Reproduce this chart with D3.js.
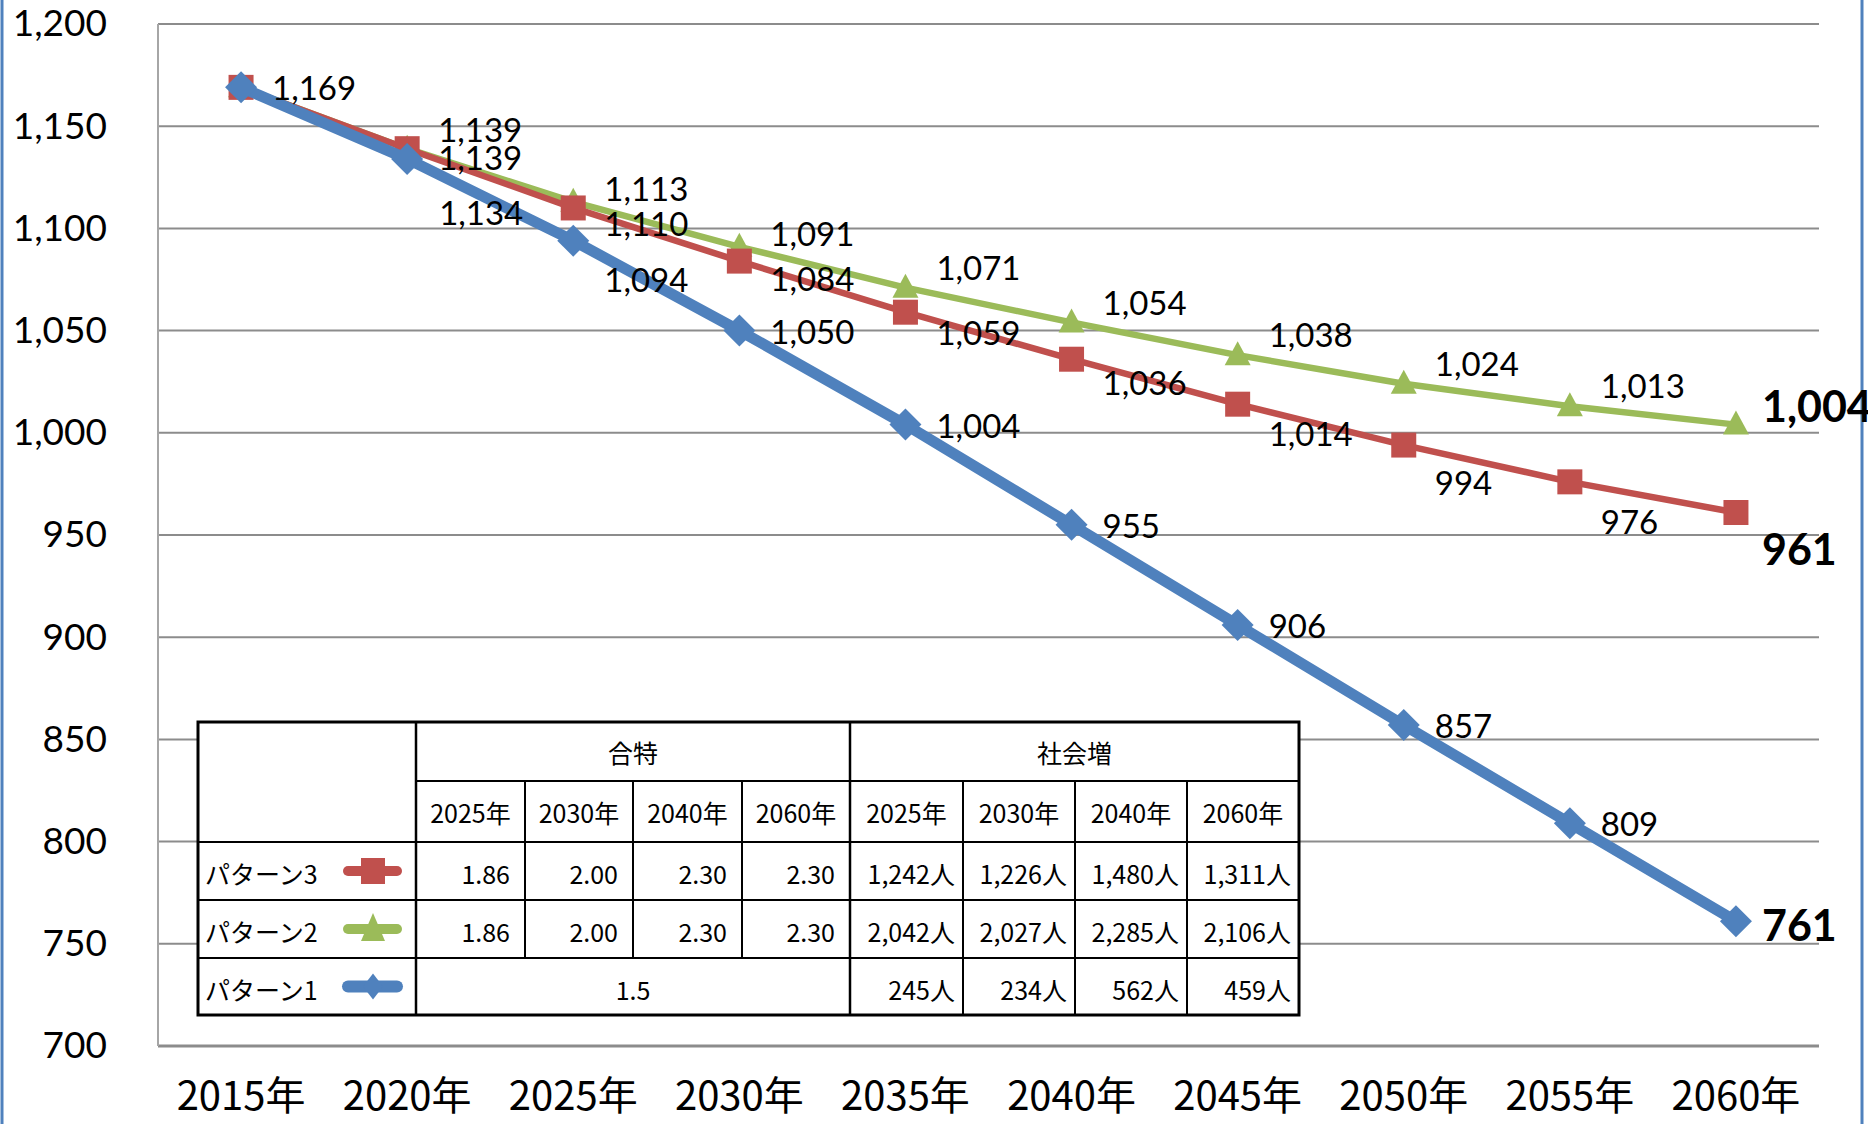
<!DOCTYPE html>
<html>
<head>
<meta charset="utf-8">
<script src="https://cdn.jsdelivr.net/npm/d3@7"></script>
<style>
  body { margin: 0; background: #fff; }
  svg { display: block; }
</style>
</head>
<body>
<script>
// chart data
var years = ["2015年", "2020年", "2025年", "2030年", "2035年", "2040年", "2045年", "2050年", "2055年", "2060年"];
var pattern1 = [1169, 1134, 1094, 1050, 1004, 955, 906, 857, 809, 761];
var pattern2 = [1169, 1139, 1113, 1091, 1071, 1054, 1038, 1024, 1013, 1004];
var pattern3 = [1169, 1139, 1110, 1084, 1059, 1036, 1014, 994, 976, 961];
var yTicks = [700, 750, 800, 850, 900, 950, 1000, 1050, 1100, 1150, 1200];

// table data
var tableGroups = ["合特", "社会増"];
var tableYears = ["2025年", "2030年", "2040年", "2060年"];
var patternNames = ["パターン3", "パターン2", "パターン1"];
var fertility = [["1.86", "2.00", "2.30", "2.30"], ["1.86", "2.00", "2.30", "2.30"], ["1.5"]];
var socialIncrease = [[1242, 1226, 1480, 1311], [2042, 2027, 2285, 2106], [245, 234, 562, 459]];

var W = 1868, H = 1124;
var margin = {top: 24, right: 49, bottom: 78, left: 158};

var svg = d3.select("body").append("svg")
    .attr("width", W)
    .attr("height", H);

// frame lines at the page edges
svg.append("line").attr("x1", 2).attr("x2", 2).attr("y1", 0).attr("y2", H)
    .attr("stroke", "#4f81bd").attr("stroke-width", 3);
svg.append("line").attr("x1", 1862).attr("x2", 1862).attr("y1", 0).attr("y2", H)
    .attr("stroke", "#4f81bd").attr("stroke-width", 3);

var x = d3.scaleBand()
    .domain(years)
    .range([margin.left, W - margin.right]);

var y = d3.scaleLinear()
    .domain([700, 1200])
    .range([H - margin.bottom, margin.top]);

var cx = function(i) { return x(years[i]) + x.bandwidth() / 2; };

// gridlines
svg.append("g")
    .selectAll("line")
    .data(yTicks)
    .join("line")
      .attr("x1", margin.left)
      .attr("x2", W - margin.right)
      .attr("y1", function(d) { return y(d); })
      .attr("y2", function(d) { return y(d); })
      .attr("stroke", "#8c8c8c")
      .attr("stroke-width", function(d) { return d == 700 ? 3 : 2; });

svg.append("line")
    .attr("x1", margin.left).attr("x2", margin.left)
    .attr("y1", y(1200)).attr("y2", y(700))
    .attr("stroke", "#a6a6a6").attr("stroke-width", 2);

// y labels
var yAxis = svg.append("g")
    .attr("transform", "translate(107,0)")
    .call(d3.axisLeft(y).tickValues(yTicks).tickSize(0).tickPadding(0).tickFormat(d3.format(",")));
yAxis.select(".domain").remove();
yAxis.selectAll("text")
    .attr("font-family", "Lato, 'Noto Sans', sans-serif")
    .attr("font-size", 37)
    .attr("fill", "#000");

// x labels
var xAxis = svg.append("g")
    .attr("transform", "translate(0," + (H - margin.bottom) + ")")
    .call(d3.axisBottom(x).tickSize(0).tickPadding(0));
xAxis.select(".domain").remove();
xAxis.selectAll("text")
    .attr("y", 0)
    .attr("dy", 0)
    .attr("transform", "translate(0,64)")
    .attr("font-family", "'Noto Sans CJK JP', sans-serif")
    .attr("font-size", 40)
    .attr("fill", "#000");

var series = [
  {values: pattern2, color: "#9bbb59", width: 6.5, marker: "triangle", dy: [null, -20, -14, -14, -21, -20, -21, -21, -21, -19]},
  {values: pattern3, color: "#c0504d", width: 6.5, marker: "square", dy: [null, 8, 15, 17, 20, 23, 29, 37, 39, 36]},
  {values: pattern1, color: "#4f81bd", width: 11, marker: "diamond", dy: [0, 53, 38, 0, 0, 0, 0, 0, 0, 3]}
];

var line = d3.line()
    .x(function(d, i) { return cx(i); })
    .y(function(d) { return y(d); });

var markerPath = {
  square: d3.symbol(d3.symbolSquare, 625)(),
  triangle: "M0,-14L13,10L-13,10Z",
  diamond: "M0,-16L16,0L0,16L-16,0Z"
};

series.forEach(function(s) {
  svg.append("path")
      .datum(s.values)
      .attr("fill", "none")
      .attr("stroke", s.color)
      .attr("stroke-width", s.width)
      .attr("stroke-linejoin", "round")
      .attr("d", line);

  svg.append("g")
    .selectAll("path")
    .data(s.values)
    .join("path")
      .attr("transform", function(d, i) { return "translate(" + cx(i) + "," + y(d) + ")"; })
      .attr("d", markerPath[s.marker])
      .attr("fill", s.color);
});

// data labels
var fmt = d3.format(",");
series.forEach(function(s) {
  s.values.forEach(function(v, i) {
    if (s.dy[i] == null) return;
    var last = i == s.values.length - 1;
    var dx = 31;
    if (i == 1 && s.marker == "diamond") dx = 32;
    svg.append("text")
        .attr("x", cx(i) + (last ? 26 : dx))
        .attr("y", y(v) + s.dy[i])
        .attr("dominant-baseline", "central")
        .attr("font-family", "Lato, 'Noto Sans', sans-serif")
        .attr("font-size", last ? 43 : 33)
        .attr("font-weight", last ? "bold" : "normal")
        .attr("fill", "#000")
        .text(fmt(v));
  });
});

// table
var colX = [198, 416, 525, 633, 742, 850, 963, 1075, 1187, 1299];
var rowY = [722, 781, 842, 900, 958, 1015];
var jp = "'Noto Sans CJK JP', sans-serif";
var tfs = 25;

var tbl = svg.append("g");
tbl.append("rect")
    .attr("x", colX[0]).attr("y", rowY[0])
    .attr("width", colX[9] - colX[0]).attr("height", rowY[5] - rowY[0])
    .attr("fill", "#fff");

var tLine = function(x1, y1, x2, y2, w) {
  tbl.append("line")
      .attr("x1", x1).attr("y1", y1).attr("x2", x2).attr("y2", y2)
      .attr("stroke", "#000").attr("stroke-width", w || 2);
};
// horizontal rules
tLine(colX[1], rowY[1], colX[9], rowY[1]);
for (let r = 2; r < 5; r++) tLine(colX[0], rowY[r], colX[9], rowY[r]);
// vertical rules
tLine(colX[1], rowY[0], colX[1], rowY[5], 2.5);
tLine(colX[5], rowY[0], colX[5], rowY[5], 2.5);
[2, 3, 4].forEach(function(c) { tLine(colX[c], rowY[1], colX[c], rowY[4]); });
[6, 7, 8].forEach(function(c) { tLine(colX[c], rowY[1], colX[c], rowY[5]); });
// outer frame
tbl.append("rect")
    .attr("x", colX[0]).attr("y", rowY[0])
    .attr("width", colX[9] - colX[0]).attr("height", rowY[5] - rowY[0])
    .attr("fill", "none").attr("stroke", "#000").attr("stroke-width", 3);

var tText = function(tx, ty, str, anchor) {
  tbl.append("text")
      .attr("x", tx).attr("y", ty)
      .attr("text-anchor", anchor)
      .attr("dominant-baseline", "central")
      .attr("font-family", jp)
      .attr("font-size", tfs)
      .attr("fill", "#000")
      .text(str);
};
var mid = function(a, b) { return (a + b) / 2; };

tText(mid(colX[1], colX[5]), mid(rowY[0], rowY[1]), tableGroups[0], "middle");
tText(mid(colX[5], colX[9]), mid(rowY[0], rowY[1]), tableGroups[1], "middle");
for (let k = 0; k < 4; k++) {
  tText(mid(colX[1 + k], colX[2 + k]), mid(rowY[1], rowY[2]), tableYears[k], "middle");
  tText(mid(colX[5 + k], colX[6 + k]), mid(rowY[1], rowY[2]), tableYears[k], "middle");
}

var legendSeries = [series[1], series[0], series[2]];
var legendMarker = {
  square: "M-12,-13L12,-13L12,13L-12,13Z",
  triangle: "M0,-16L12,12L-12,12Z",
  diamond: "M0,-13L10,0L0,13L-10,0Z"
};
patternNames.forEach(function(name, r) {
  var ym = mid(rowY[2 + r], rowY[3 + r]);
  tText(colX[0] + 7, ym + 2, name, "start");
  var s = legendSeries[r];
  tbl.append("line")
      .attr("x1", 348).attr("x2", 397).attr("y1", ym).attr("y2", ym)
      .attr("stroke", s.color).attr("stroke-width", s.marker == "diamond" ? 12 : 10)
      .attr("stroke-linecap", "round");
  tbl.append("path")
      .attr("transform", "translate(373," + ym + ")")
      .attr("d", legendMarker[s.marker])
      .attr("fill", s.color);

  var f = fertility[r];
  if (f.length == 1) {
    tText(mid(colX[1], colX[5]), ym + 2, f[0], "middle");
  } else {
    f.forEach(function(v, k) { tText(colX[2 + k] - 15, ym + 2, v, "end"); });
  }
  socialIncrease[r].forEach(function(v, k) {
    tText(colX[6 + k] - 8, ym + 2, fmt(v) + "人", "end");
  });
});
</script>
</body>
</html>
